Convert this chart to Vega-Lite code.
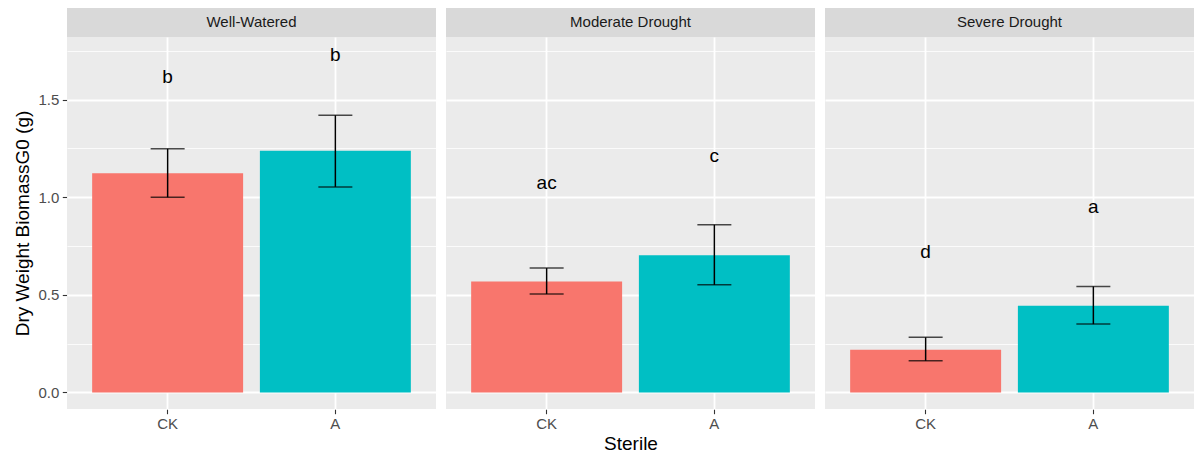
{
  "$schema": "https://vega.github.io/schema/vega-lite/v6.json",
  "padding": {"left": 13, "top": 7, "right": 0, "bottom": 0},
  "background": "white",
  "data": {"values": [
    {"Condition": "Well-Watered", "Sterile": "CK", "mean": 1.123, "lo": 1.0, "hi": 1.248, "letter": "b", "label_y": 1.618},
    {"Condition": "Well-Watered", "Sterile": "A", "mean": 1.238, "lo": 1.053, "hi": 1.42, "letter": "b", "label_y": 1.729},
    {"Condition": "Moderate Drought", "Sterile": "CK", "mean": 0.568, "lo": 0.504, "hi": 0.637, "letter": "ac", "label_y": 1.075},
    {"Condition": "Moderate Drought", "Sterile": "A", "mean": 0.703, "lo": 0.551, "hi": 0.859, "letter": "c", "label_y": 1.21},
    {"Condition": "Severe Drought", "Sterile": "CK", "mean": 0.219, "lo": 0.162, "hi": 0.282, "letter": "d", "label_y": 0.717},
    {"Condition": "Severe Drought", "Sterile": "A", "mean": 0.444, "lo": 0.35, "hi": 0.543, "letter": "a", "label_y": 0.95}
  ]},
  "facet": {
    "column": {
      "field": "Condition", "type": "nominal",
      "sort": ["Well-Watered", "Moderate Drought", "Severe Drought"],
      "header": {
        "title": "Sterile", "titleOrient": "bottom", "labels": false,
        "titleFont": "Liberation Sans", "titleFontSize": 19, "titleFontWeight": "normal",
        "titleColor": "#000000", "titlePadding": -7
      }
    }
  },
  "spacing": 10,
  "spec": {
    "width": 369,
    "height": 372,
    "layer": [
      {
        "mark": {"type": "bar"},
        "encoding": {
          "x": {
            "field": "Sterile", "type": "nominal", "sort": ["CK", "A"],
            "scale": {"paddingInner": 0.1, "paddingOuter": 0.15},
            "axis": {
              "title": null, "grid": true, "gridColor": "#ffffff", "gridWidth": 1.8,
              "bandPosition": 0.5, "domain": false, "tickColor": "#333333", "tickSize": 4.7,
              "tickWidth": 1.1, "labelPadding": 3, "labelFont": "Liberation Sans",
              "labelFontSize": 15, "labelColor": "#4d4d4d", "labelAngle": 0
            }
          },
          "y": {
            "field": "mean", "type": "quantitative",
            "scale": {"domain": [-0.085, 1.821], "nice": false, "zero": false},
            "axis": {
              "title": "Dry Weight BiomassG0 (g)",
              "values": [0, 0.25, 0.5, 0.75, 1, 1.25, 1.5, 1.75],
              "labelExpr": "datum.value % 0.5 === 0 ? format(datum.value, '.1f') : ''",
              "labelOverlap": false,
              "tickOpacity": {"condition": {"test": "datum.value % 0.5 === 0", "value": 1}, "value": 0},
              "gridWidth": {"condition": {"test": "datum.value % 0.5 === 0", "value": 1.8}, "value": 0.8},
              "grid": true, "gridColor": "#ffffff", "domain": false,
              "tickColor": "#333333", "tickSize": 4.7, "tickWidth": 1.1, "labelPadding": 3.5,
              "labelFont": "Liberation Sans", "labelFontSize": 15, "labelColor": "#4d4d4d",
              "titleFont": "Liberation Sans", "titleFontSize": 19, "titleFontWeight": "normal",
              "titleColor": "#000000", "titlePadding": 5
            }
          },
          "color": {
            "field": "Sterile", "type": "nominal",
            "scale": {"domain": ["CK", "A"], "range": ["#F8766D", "#00BFC4"]},
            "legend": null
          }
        }
      },
      {
        "mark": {"type": "rule", "color": "#000000", "strokeWidth": 1.5},
        "encoding": {
          "x": {"field": "Sterile", "type": "nominal", "sort": ["CK", "A"]},
          "y": {"field": "lo", "type": "quantitative", "scale": {"domain": [-0.085, 1.821], "nice": false, "zero": false}},
          "y2": {"field": "hi"}
        }
      },
      {
        "mark": {"type": "tick", "color": "#000000", "thickness": 1.5, "size": 34},
        "encoding": {
          "x": {"field": "Sterile", "type": "nominal", "sort": ["CK", "A"]},
          "y": {"field": "lo", "type": "quantitative", "scale": {"domain": [-0.085, 1.821], "nice": false, "zero": false}}
        }
      },
      {
        "mark": {"type": "tick", "color": "#000000", "thickness": 1.5, "size": 34},
        "encoding": {
          "x": {"field": "Sterile", "type": "nominal", "sort": ["CK", "A"]},
          "y": {"field": "hi", "type": "quantitative", "scale": {"domain": [-0.085, 1.821], "nice": false, "zero": false}}
        }
      },
      {
        "mark": {"type": "text", "font": "Liberation Sans", "fontSize": 19, "color": "#000000", "baseline": "middle", "align": "center"},
        "encoding": {
          "x": {"field": "Sterile", "type": "nominal", "sort": ["CK", "A"]},
          "y": {"field": "label_y", "type": "quantitative", "scale": {"domain": [-0.085, 1.821], "nice": false, "zero": false}},
          "text": {"field": "letter"}
        }
      },
      {
        "transform": [{"filter": "datum.Sterile === 'CK'"}],
        "mark": {"type": "rect", "color": "#d9d9d9"},
        "encoding": {
          "y": {"datum": 1.821, "type": "quantitative", "scale": {"domain": [-0.085, 1.821], "nice": false, "zero": false}},
          "y2": {"datum": 1.97}
        }
      },
      {
        "transform": [{"filter": "datum.Sterile === 'CK'"}],
        "mark": {"type": "text", "font": "Liberation Sans", "fontSize": 15, "color": "#1a1a1a", "baseline": "middle", "align": "center"},
        "encoding": {
          "y": {"datum": 1.896, "type": "quantitative", "scale": {"domain": [-0.085, 1.821], "nice": false, "zero": false}},
          "text": {"field": "Condition"}
        }
      }
    ]
  },
  "config": {
    "view": {"fill": "#EBEBEB", "stroke": null}
  }
}
